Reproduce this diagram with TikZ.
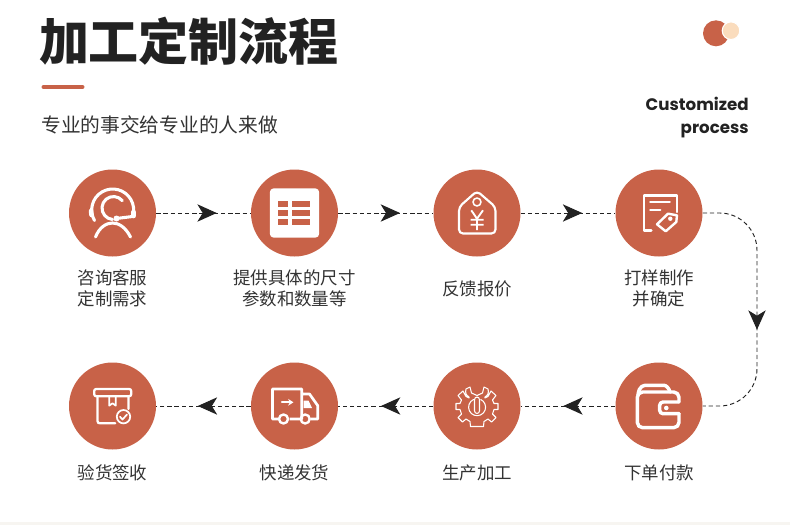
\documentclass[tikz,border=0pt]{standalone}
\usepackage{fontspec}
\usetikzlibrary{arrows.meta,decorations.markings}
\setmainfont{Noto Sans CJK SC}
\newfontfamily\latinf{Poppins}
\definecolor{rust}{HTML}{C86248}
\definecolor{peach}{HTML}{FADCBD}
\definecolor{ink}{HTML}{222222}
\definecolor{txt}{HTML}{333333}
\definecolor{band}{HTML}{F7F5F1}
\tikzset{
  x=0.75pt,y=-0.75pt,
  disc/.style={circle,fill=rust,minimum size=65.25pt,inner sep=0pt},
  lab/.style={font=\fontsize{13.1pt}{15.3pt}\selectfont,text=txt,align=center,inner sep=0pt},
  flow/.style={draw=ink,line width=0.7pt,dash pattern=on 3.2pt off 2.2pt},
  midtip/.style={postaction={decorate,decoration={markings,mark=at position #1 with {\arrow[ink,solid]{Stealth[length=14.5pt,width=13pt,inset=4pt]}}}}},
  ic/.style={draw=white,line width=2.3pt,line cap=round,line join=round},
  icthin/.style={draw=white,line width=0.8pt,line cap=round,line join=round},
}
\begin{document}
\begin{tikzpicture}
\useasboundingbox (0,0) rectangle (790,525);
\fill[white] (0,0) rectangle (790,525);
\fill[band] (0,522) rectangle (790,525);
% header
\node[inner sep=0pt,text=ink,font=\fontsize{37.5pt}{40pt}\selectfont\bfseries] (title) at (189,41) {加工定制流程};
\coordinate (ruleL) at (43.5,87); \coordinate (ruleR) at (82.5,87);
\draw[rust,line width=3pt,line cap=round] (ruleL) -- (ruleR);
\node[inner sep=0pt,anchor=west,text=txt,font=\fontsize{14.8pt}{17pt}\selectfont] (sub) at (41,125) {专业的事交给专业的人来做};
\node[inner sep=0pt,anchor=base east,text=ink,font=\latinf\fontsize{12.5pt}{16pt}\selectfont\bfseries] (en1) at (749,110) {Customized};
\node[inner sep=0pt,anchor=base east,text=ink,font=\latinf\fontsize{12.5pt}{16pt}\selectfont\bfseries] (en2) at (749,133) {process};
\fill[rust] (716,33.3) circle (13);
\filldraw[fill=peach,draw=white,line width=0.8pt] (731,30.7) circle (8.8);
% discs
\node[disc] (a1) at (112.5,213) {};
\node[disc] (a2) at (294.5,213) {};
\node[disc] (a3) at (477,213) {};
\node[disc] (a4) at (659,213) {};
\node[disc] (b4) at (659,406) {};
\node[disc] (b3) at (477,406) {};
\node[disc] (b2) at (294.5,406) {};
\node[disc] (b1) at (112.5,406) {};
% labels
\node[lab] (l1) at (112.5,288.5) {咨询客服\\定制需求};
\node[lab] (l2) at (294.5,288.5) {提供具体的尺寸\\参数和数量等};
\node[lab] (l3) at (477,288.5) {反馈报价};
\node[lab] (l4) at (659,288.5) {打样制作\\并确定};
\node[lab] (l5) at (659,473) {下单付款};
\node[lab] (l6) at (477,473) {生产加工};
\node[lab] (l7) at (294.5,473) {快递发货};
\node[lab] (l8) at (112.5,473) {验货签收};
% connectors
\draw[flow,midtip=.64] (a1) -- (a2);
\draw[flow,midtip=.65] (a2) -- (a3);
\draw[flow,midtip=.65] (a3) -- (a4);
\coordinate (cornerT) at (757,213);
\coordinate (cornerB) at (757,406);
\draw[flow,midtip=.575,rounded corners=28pt] (a4) -- (cornerT) -- (cornerB) -- (b4);
\draw[flow,midtip=.55] (b4) -- (b3);
\draw[flow,midtip=.55] (b3) -- (b2);
\draw[flow,midtip=.56] (b2) -- (b1);
% icon 1: headset
\begin{scope}[shift={(a1)}]
\draw[ic] (-18,7.5) arc[start angle=150,end angle=375,radius=21];
\draw[ic,line width=3.4pt] (-21.5,-2) -- (-21,2);
\draw[ic,line width=3.4pt] (21,-1) -- (21,3);
\draw[ic] (0,6.5) arc[start angle=95,end angle=320,radius=11.5];
\draw[ic] (4,5.5) -- (20,3.5);
\fill[white] (4,5.5) circle (3);
\draw[ic] (-17,24) .. controls (-13,14) and (-6,10) .. (0,10) .. controls (6,10) and (13,14) .. (18,24);
\end{scope}
% icon 2: table
\begin{scope}[shift={(a2)}]
\fill[white,rounded corners=3pt] (-24.7,-24.7) rectangle (24.7,24.7);
\foreach \t/\u in {-12/-6,-2.7/3,6.3/12.3}{
  \fill[rust] (-16.7,\t) rectangle (-7,\u);
  \fill[rust] (-2.3,\t) rectangle (15.7,\u);
}
\end{scope}
% icon 3: price tag
\begin{scope}[shift={(a3)}]
\draw[ic,line width=1.6pt,rounded corners=3pt] (0,-22) -- (-18,-6) -- (-18,20.5) -- (18.5,20.5) -- (18.5,-6) -- cycle;
\draw[ic,line width=1.2pt] (0,-11) circle (4);
\draw[ic,line width=1.4pt,line cap=butt] (-5.7,-2.7) -- (0,5.7) -- (6,-2.7) (0,5.7) -- (0,17) (-6.5,6.7) -- (6.5,6.7) (-6.5,11.7) -- (6.5,11.7);
\end{scope}
% icon 4: document with tag
\begin{scope}[shift={(a4)}]
\draw[ic,line width=1.8pt] (-7.7,17.3) -- (-15.3,17.3) -- (-15.3,-17.7) -- (18,-17.7) -- (18,-1);
\draw[ic,line width=1.8pt] (-8.7,-11) -- (10.7,-11) (-8.7,-3.3) -- (1.3,-3.3);
\draw[ic,line width=1.8pt] (-2,11.3) -- (9,0.7) -- (18,2.3) -- (17.3,9) -- (6.7,18.3) -- cycle;
\fill[white] (11.3,5.7) circle (2.2);
\end{scope}
% icon 5: wallet
\begin{scope}[shift={(b4)}]
\draw[ic,rounded corners=4pt,line width=2.6pt] (20,-4) -- (20,-14) -- (-21.7,-14) -- (-21.7,21.7) -- (20,21.7) -- (20,7.7);
\draw[ic,line width=2.6pt] (-21,-11) .. controls (-20,-20.7) and (-15,-20.7) .. (-12,-20.7) -- (5,-20.7) .. controls (7,-20.7) and (10,-18) .. (11,-14);
\draw[ic,rounded corners=2.5pt,line width=2.6pt] (20,-4) -- (0.7,-4) -- (0.7,7.7) -- (20,7.7);
\fill[white] (7.3,2) circle (2.3);
\end{scope}
% icon 6: gear with wrench
\begin{scope}[shift={(b3)}]
\draw[icthin] (-7,-19) -- (-5.5,-13) -- (0,-10.5) -- (5.5,-13) -- (7,-19)
  -- (11,-17) .. controls (12,-13) and (11,-11) .. (8,-9) -- (8,-8)
  -- (11,-9.5) -- (14,-15) -- (19,-10.5) -- (15.5,-6) -- (17,-2.5) -- (21,-2.5) -- (21,3.5) -- (17,3.5)
  -- (15.5,8) -- (19,11.5) -- (14.5,16) -- (11,13) -- (7,15.5) -- (6.5,20.5) -- (-6.5,20.5) -- (-7,15.5)
  -- (-11,13) -- (-14.5,16) -- (-19,11.5) -- (-15.5,8) -- (-17,3.5) -- (-21,3.5) -- (-21,-2.5) -- (-17,-2.5)
  -- (-15.5,-6) -- (-19,-10.5) -- (-14,-15) -- (-11,-9.5) -- (-8,-8) -- (-8,-9) .. controls (-11,-11) and (-12,-13) .. (-11,-17) -- cycle;
\draw[icthin] (-3.5,-6.5) arc[start angle=245,end angle=-65,radius=8.5];
\draw[icthin,rounded corners=2pt] (-2.5,-9) rectangle (2.5,7.5);
\end{scope}
% icon 7: truck
\begin{scope}[shift={(b2)}]
\draw[ic,line width=2pt,line cap=butt] (-16.5,13) -- (-22,13) -- (-22,-17) -- (7.3,-17) -- (7.3,13) -- (-5,13) (6,-12) -- (15,-12) -- (23.3,-0.3) -- (23.3,13) -- (16,13);
\fill[white] (9,-5.5) -- (14,-5.5) -- (17.5,2) -- (9,2) -- cycle;
\draw[ic,line width=1.8pt] (-11,13) circle (4.5) (10.7,13) circle (4.5);
\draw[ic,line width=1.5pt,-{Stealth[length=4pt,width=5pt]}] (-12.7,-3.7) -- (-1,-3.7);
\end{scope}
% icon 8: box with check
\begin{scope}[shift={(b1)}]
\draw[ic,line width=1.7pt,rounded corners=1.5pt] (-18.3,-17) rectangle (18.7,-9.7);
\draw[ic,line width=1.7pt] (-15,-9.7) -- (-15,15) .. controls (-15,17) and (-14,17.3) .. (-12,17.3) -- (2.7,17.3) (16,-9.7) -- (16,3);
\draw[ic,line width=1.3pt] (-3.3,-9.7) -- (-3.3,-0.3) -- (0,-2.7) -- (3.3,-0.3) -- (3.3,-9.7);
\draw[ic,line width=1.3pt] (11,10.7) circle (6.7);
\draw[ic,line width=1.3pt] (7.5,10.7) -- (10,13.5) -- (14.5,8.5);
\end{scope}
\end{tikzpicture}
\end{document}
